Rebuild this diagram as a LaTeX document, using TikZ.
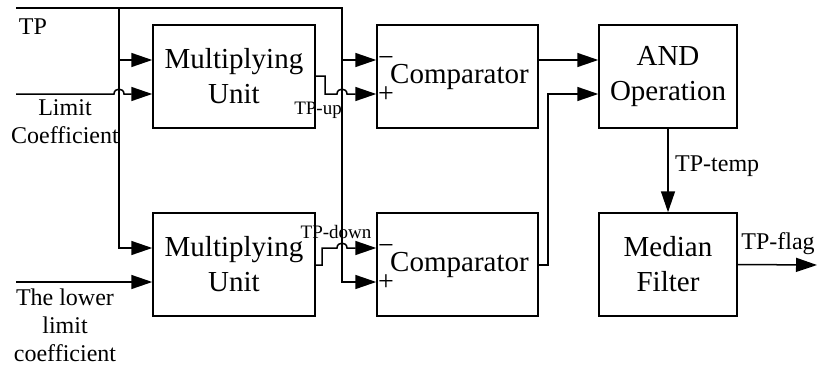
\documentclass[tikz,border=0pt]{standalone}
\usepackage{fontspec}
\setmainfont{Liberation Serif}
\usetikzlibrary{arrows.meta}
\begin{document}
\begin{tikzpicture}[x=1pt,y=-1pt,
 box/.style={draw, line width=1.5pt, align=center, font=\fontsize{29}{35}\selectfont, inner sep=0pt, minimum height=103pt},
 wire/.style={line width=1.5pt},
 arr/.style={wire, -{Triangle[length=21pt,width=14pt]}},
 lbl/.style={font=\fontsize{24}{28}\selectfont, align=center, inner sep=0pt},
 slbl/.style={font=\fontsize{19}{22}\selectfont, inner sep=0pt},
 sgn/.style={font=\fontsize{28}{30}\selectfont, inner sep=0pt, anchor=base}]
\useasboundingbox (0,0) rectangle (818,369);
% boxes
\node[box, minimum width=162pt] (mu1) at (234,76.5) {Multiplying\\Unit};
\node[box, minimum width=162pt] (mu2) at (234,264.5) {Multiplying\\Unit};
\node[box, minimum width=161pt] (c1) at (457.5,76.5) {\hspace*{4pt}Comparator};
\node[box, minimum width=161pt] (c2) at (457.5,264.5) {\hspace*{4pt}Comparator};
\node[box, minimum width=138pt] (and) at (668,76.5) {AND\\Operation};
\node[box, minimum width=138pt] (mf) at (668,264.5) {Median\\Filter};
% signs
\node[sgn] (m1) at (386,66.5) {−};
\node[sgn] (p1) at (386,102) {+};
\node[sgn] (m2) at (386,254.5) {−};
\node[sgn] (p2) at (386,290) {+};
% coordinates
\coordinate (tp0) at (16,8);
\coordinate (ja) at (119,8);
\coordinate (jb) at (342,8);
\coordinate (lim0) at (16,94);
\coordinate (low0) at (16,282);
\coordinate (out) at (817,265);
% connectors
\draw[arr] (tp0) -- (jb) -- (342,282) -- (c2.west |- 0,282);
\draw[arr] (ja) -- (119,248) -- (mu2.west |- 0,248);
\draw[arr] (119,60) -- (mu1.west |- 0,60);
\draw[arr] (342,60) -- (c1.west |- 0,60);
\draw[arr] (lim0) -- (114,94) .. controls (114,87.5) and (124,87.5) .. (124,94) -- (mu1.west |- 0,94);
\draw[arr] (mu1.east |- 0,76) -- (325,76) -- (325,94) -- (337,94) .. controls (337,87.5) and (347,87.5) .. (347,94) -- (c1.west |- 0,94);
\draw[arr] (mu2.east |- 0,265) -- (322,265) -- (322,248) -- (337,248) .. controls (337,241.5) and (347,241.5) .. (347,248) -- (c2.west |- 0,248);
\draw[arr] (low0) -- (mu2.west |- 0,282);
\draw[arr] (c1.east |- 0,60) -- (and.west |- 0,60);
\draw[arr] (c2.east |- 0,265) -- (548,265) -- (548,94) -- (and.west |- 0,94);
\draw[arr] (and.south) -- (mf.north);
\draw[arr] (mf.east) -- (out);
% labels
\node[lbl] (tp) at (33,27) {TP};
\node[lbl] (lim) at (65,122) {Limit\\Coefficient};
\node[lbl] (low) at (65,325) {The lower\\limit\\coefficient};
\node[slbl] (tpup) at (318,110) {TP-up};
\node[slbl] (tpdown) at (336,232) {TP-down};
\node[lbl, anchor=west] (tptemp) at (675,166) {TP-temp};
\node[lbl] (tpflag) at (778,244) {TP-flag};
\end{tikzpicture}
\end{document}
